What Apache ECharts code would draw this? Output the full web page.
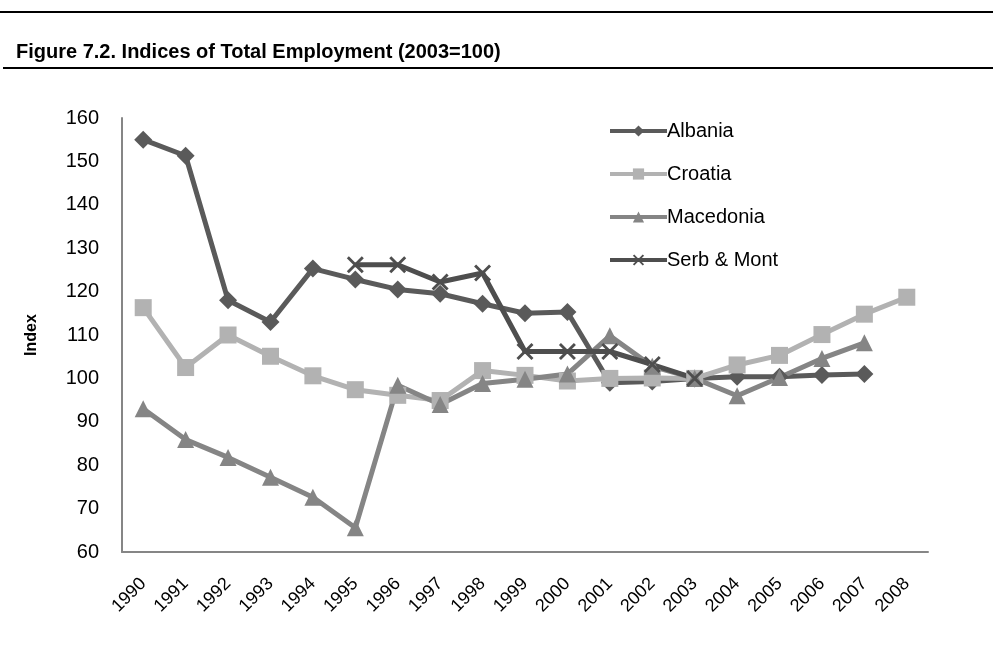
<!DOCTYPE html>
<html>
<head>
<meta charset="utf-8">
<script src="https://cdn.jsdelivr.net/npm/echarts@6/dist/echarts.min.js"></script>
<style>
  html, body { margin: 0; padding: 0; background: #fff; }
  #chart { width: 993px; height: 664px; }
</style>
</head>
<body>
<div id="chart"></div>
<script>
  // years on the x axis
  var years = ['1990', '1991', '1992', '1993', '1994', '1995', '1996', '1997', '1998', '1999',
    '2000', '2001', '2002', '2003', '2004', '2005', '2006', '2007', '2008'];

  // index values, 2003 = 100
  var albania = [155, 151.3, 118, 113, 125.3, 122.8, 120.5, 119.5, 117.2, 115, 115.3, 99, 99.3, 100, 100.4, 100.4, 100.8, 101, null];
  var croatia = [116.3, 102.5, 110, 105.1, 100.6, 97.4, 96.1, 94.9, 101.8, 100.7, 99.4, 100, 100.1, 100, 103.1, 105.3, 110.1, 114.8, 118.7];
  var macedonia = [93, 85.9, 81.8, 77.2, 72.6, 65.6, 98.4, 94, 98.8, 99.8, 101, 109.8, 102.8, 100, 96, 100.2, 104.6, 108.2, null];
  var serbMont = [null, null, null, null, null, 126.2, 126.2, 122.2, 124.3, 106.2, 106.2, 106.2, 103.2, 100, null, null, null, null, null];

  var yTicks = { min: 60, max: 160, interval: 10 };

  var crossPath = 'path://M0,1.2L1.2,0L10,8.8L8.8,10Z M8.8,0L10,1.2L1.2,10L0,8.8Z';

  var chart = echarts.init(document.getElementById('chart'));

  function lineSeries(name, data, color, symbol, size) {
    return {
      name: name,
      type: 'line',
      data: data,
      symbol: symbol,
      symbolSize: size,
      showAllSymbol: true,
      connectNulls: false,
      lineStyle: { color: color, width: 5 },
      itemStyle: { color: color },
      emphasis: { disabled: true },
      z: 3
    };
  }

  chart.setOption({
    animation: false,
    textStyle: { fontFamily: 'Liberation Sans, Arial, sans-serif' },
    title: {
      text: 'Figure 7.2. Indices of Total Employment (2003=100)',
      left: 11,
      top: 37,
      textStyle: { fontSize: 20, fontWeight: 'bold', color: '#000' }
    },
    graphic: [
      { type: 'rect', shape: { x: 0, y: 11, width: 993, height: 2 }, style: { fill: '#000' } },
      { type: 'rect', shape: { x: 3, y: 67, width: 990, height: 2 }, style: { fill: '#000' } }
    ],
    legend: {
      orient: 'vertical',
      left: 603,
      top: 116,
      itemWidth: 57,
      itemHeight: 14,
      itemGap: 23,
      lineStyle: { width: 4 },
      textStyle: { fontSize: 20, color: '#000', padding: [0, 0, 0, -5] },
      data: ['Albania', 'Croatia', 'Macedonia', 'Serb & Mont']
    },
    grid: { left: 122, right: 65, top: 118, bottom: 112 },
    xAxis: {
      type: 'category',
      data: years,
      boundaryGap: true,
      axisLine: { lineStyle: { color: '#868686', width: 2 } },
      axisTick: { show: false },
      axisLabel: { rotate: 45, fontSize: 18, color: '#000', margin: 29, interval: 0 }
    },
    yAxis: {
      type: 'value',
      min: yTicks.min,
      max: yTicks.max,
      interval: yTicks.interval,
      name: 'Index',
      nameLocation: 'middle',
      nameGap: 82,
      nameRotate: 90,
      nameTextStyle: { fontSize: 16, fontWeight: 'bold', color: '#000' },
      splitLine: { show: false },
      axisLine: { show: true, lineStyle: { color: '#868686', width: 2 } },
      axisTick: { show: false },
      axisLabel: { fontSize: 20, color: '#000', margin: 23 }
    },
    series: [
      lineSeries('Albania', albania, '#5a5a5a', 'diamond', 18),
      lineSeries('Croatia', croatia, '#b2b2b2', 'rect', 17),
      lineSeries('Macedonia', macedonia, '#858585', 'triangle', 17),
      lineSeries('Serb & Mont', serbMont, '#4e4e4e', crossPath, 17)
    ]
  });
</script>
</body>
</html>
